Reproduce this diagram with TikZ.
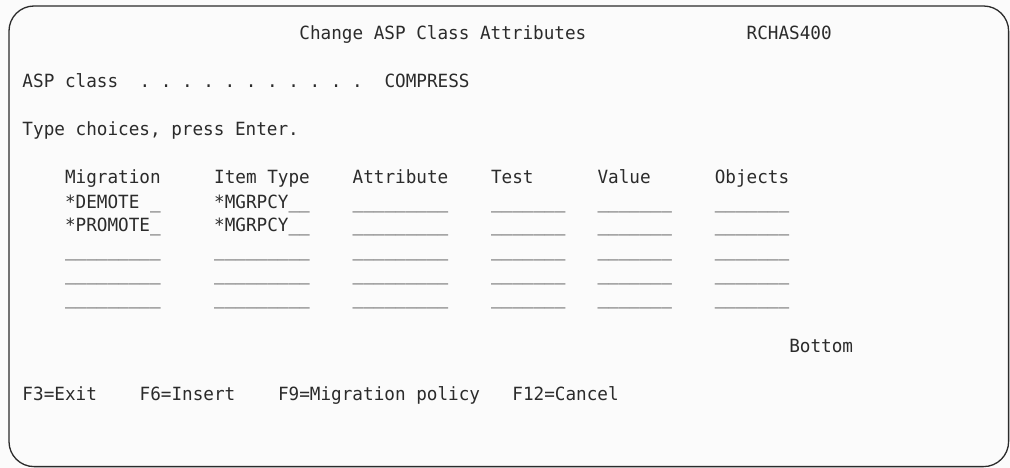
\documentclass[tikz,border=0pt]{standalone}
\usepackage{fontspec}
% Terminal-style monospaced face for the whole screen
\newfontfamily\scrfont[FakeStretch=0.97]{DejaVu Sans Mono}
\definecolor{ink}{HTML}{2B2B2B}
\definecolor{paper}{HTML}{FBFBFB}
% entry fields of nine and seven positions
\newcommand\fldnine{\_\_\_\_\_\_\_\_\_}
\newcommand\fldseven{\_\_\_\_\_\_\_}
\begin{document}
\begin{tikzpicture}[x=1pt, y=-1pt,
  scr/.style={anchor=base west, inner sep=0pt, outer sep=0pt, text=ink,
    font=\scrfont\fontsize{18.2}{20}\selectfont\frenchspacing},
  panel/.style={draw=ink, line width=1.3pt, rounded corners=25pt}]
  % character grid: column origin and pitch
  \def\xo{22.5}
  \def\pt{10.65}
  \useasboundingbox (0,0) rectangle (1010,468);
  \fill[paper] (0,0) rectangle (1010,468);
  \draw[panel] (9,6) rectangle (1008.6,466.6);

  % header
  \node[scr] (title) at ({\xo+26*\pt},40) {Change ASP Class Attributes};
  \node[scr] (sysname) at ({\xo+68*\pt},40) {RCHAS400};

  % ASP class line
  \node[scr] (asplbl) at ({\xo},88) {ASP class};
  \node[scr] (aspdots) at ({\xo+11*\pt},88) {. . . . . . . . . . .};
  \node[scr] (aspval) at ({\xo+34*\pt},88) {COMPRESS};

  \node[scr] (prompt) at ({\xo},136) {Type choices, press Enter.};

  % column headings
  \foreach \c/\n/\t in {4/hmig/Migration, 18/hitem/Item Type, 31/hattr/Attribute,
                        44/htest/Test, 54/hval/Value, 65/hobj/Objects}
    \node[scr] (\n) at ({\xo+\c*\pt},184) {\t};

  % first two entries
  \node[scr] (mig1) at ({\xo+4*\pt},208) {*DEMOTE \_};
  \node[scr] (item1) at ({\xo+18*\pt},208) {*MGRPCY\_\_};
  \node[scr] (mig2) at ({\xo+4*\pt},232) {*PROMOTE\_};
  \node[scr] (item2) at ({\xo+18*\pt},232) {*MGRPCY\_\_};

  % empty entry fields
  \foreach \r/\y in {3/256, 4/280, 5/304} {
    \node[scr] (mig\r) at ({\xo+4*\pt},\y) {\fldnine};
    \node[scr] (item\r) at ({\xo+18*\pt},\y) {\fldnine};
  }
  \foreach \r/\y in {1/208, 2/232, 3/256, 4/280, 5/304} {
    \node[scr] (attr\r) at ({\xo+31*\pt},\y) {\fldnine};
    \node[scr] (test\r) at ({\xo+44*\pt},\y) {\fldseven};
    \node[scr] (val\r) at ({\xo+54*\pt},\y) {\fldseven};
    \node[scr] (obj\r) at ({\xo+65*\pt},\y) {\fldseven};
  }

  \node[scr] (more) at ({\xo+72*\pt},352) {Bottom};

  % function keys
  \node[scr] (fexit) at ({\xo},400) {F3=Exit};
  \node[scr] (finsert) at ({\xo+11*\pt},400) {F6=Insert};
  \node[scr] (fpolicy) at ({\xo+24*\pt},400) {F9=Migration policy};
  \node[scr] (fcancel) at ({\xo+46*\pt},400) {F12=Cancel};
\end{tikzpicture}
\end{document}
